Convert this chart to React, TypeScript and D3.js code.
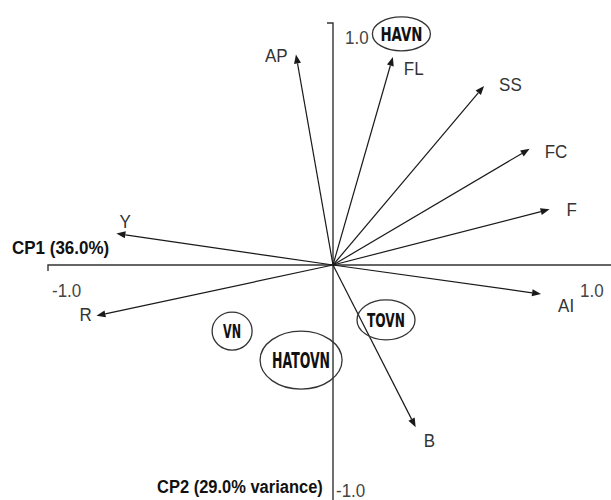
import * as d3 from 'd3'

// loadings (CP1, CP2)
const VARS = ['AP', 'FL', 'SS', 'FC', 'F', 'AI', 'B', 'R', 'Y']
const CP1 = [-0.13, 0.21, 0.53, 0.69, 0.76, 0.73, 0.29, -0.83, -0.76]
const CP2 = [0.87, 0.86, 0.74, 0.48, 0.23, -0.12, -0.67, -0.21, 0.13]

// group centroids
const GROUPS = ['HAVN', 'VN', 'HATOVN', 'TOVN']
const G_CP1 = [0.24, -0.354, -0.112, 0.186]
const G_CP2 = [0.955, -0.273, -0.393, -0.227]

const W = 611
const H = 500

// label offsets relative to arrow tip
const LABEL_OFF: Record<string, [number, number]> = {
  AP: [-31, 8],
  FL: [11, 18],
  SS: [15, 5],
  FC: [15, 9],
  F: [17, 7],
  AI: [17, 18],
  B: [8, 20],
  R: [-17, 5],
  Y: [3, -6],
}
// ellipse radii and text width
const ELL: Record<string, [number, number, number]> = {
  HAVN: [29, 17, 42],
  VN: [20, 19, 18],
  HATOVN: [41, 29, 58],
  TOVN: [29, 20, 38],
}

const sans = 'Liberation Sans, Arial, sans-serif'
const narrow = 'DejaVu Sans Condensed, Liberation Sans, sans-serif'

function T({ x, y, s = 17, bold = false, fill = '#222', children }: any) {
  return (
    <text transform={`translate(${x},${y}) scale(1,1.12)`} fontFamily={sans} fontSize={s}
      fontWeight={bold ? 'bold' : 'normal'} fill={fill}>{children}</text>
  )
}

export default function App() {
  const x = d3.scaleLinear().domain([-1, 1]).range([48, 618])
  const y = d3.scaleLinear().domain([-1, 1]).range([507, 23])
  const ox = x(0)
  const oy = y(0)
  const ink = '#1a1a1a'

  const arrows = VARS.map((name, i) => {
    const tx = x(CP1[i])
    const ty = y(CP2[i])
    const ang = Math.atan2(ty - oy, tx - ox)
    const len = 9
    const hw = 3.5
    const bx = tx - len * Math.cos(ang)
    const by = ty - len * Math.sin(ang)
    const px = -Math.sin(ang) * hw
    const py = Math.cos(ang) * hw
    const head = `M${tx},${ty}L${bx + px},${by + py}L${bx - px},${by - py}Z`
    const off = LABEL_OFF[name]
    return (
      <g key={name}>
        <line x1={ox} y1={oy} x2={bx} y2={by} stroke={ink} strokeWidth={1.2} />
        <path d={head} fill={ink} />
        <T x={tx + off[0]} y={ty + off[1]} fill="#333">{name}</T>
      </g>
    )
  })

  return (
    <svg width={W} height={H} style={{ position: 'absolute', left: 0, top: 0, background: '#fff' }}>
      {/* axes */}
      <path d={`M${x(-1)},${oy + 6}V${oy}H${W}`} fill="none" stroke="#333" strokeWidth={1.4} />
      <path d={`M${ox - 6},${y(1)}H${ox}V${H}`} fill="none" stroke="#333" strokeWidth={1.4} />

      <T x={12} y={254} s={17} bold fill="#111">CP1 (36.0%)</T>
      <T x={52} y={297} s={17} fill="#444">-1.0</T>
      <T x={580} y={297} s={17} fill="#444">1.0</T>
      <T x={345} y={44} s={17} fill="#444">1.0</T>
      <T x={336} y={497} s={17} fill="#444">-1.0</T>
      <T x={157} y={493} s={16.5} bold fill="#111">CP2 (29.0% variance)</T>

      {arrows}

      {GROUPS.map((g, i) => {
        const cx = x(G_CP1[i])
        const cy = y(G_CP2[i])
        const [rx, ry, tw] = ELL[g]
        return (
          <g key={g}>
            <ellipse cx={cx} cy={cy} rx={rx} ry={ry} fill="none" stroke="#333" strokeWidth={1.3} />
            <text x={cx - tw / 2} y={cy} dy="0.36em" fontFamily={narrow}
              textLength={tw} lengthAdjust="spacingAndGlyphs"
              fontWeight="bold" fontSize={g === 'HATOVN' ? 22 : 20} fill="#111">{g}</text>
          </g>
        )
      })}
    </svg>
  )
}
